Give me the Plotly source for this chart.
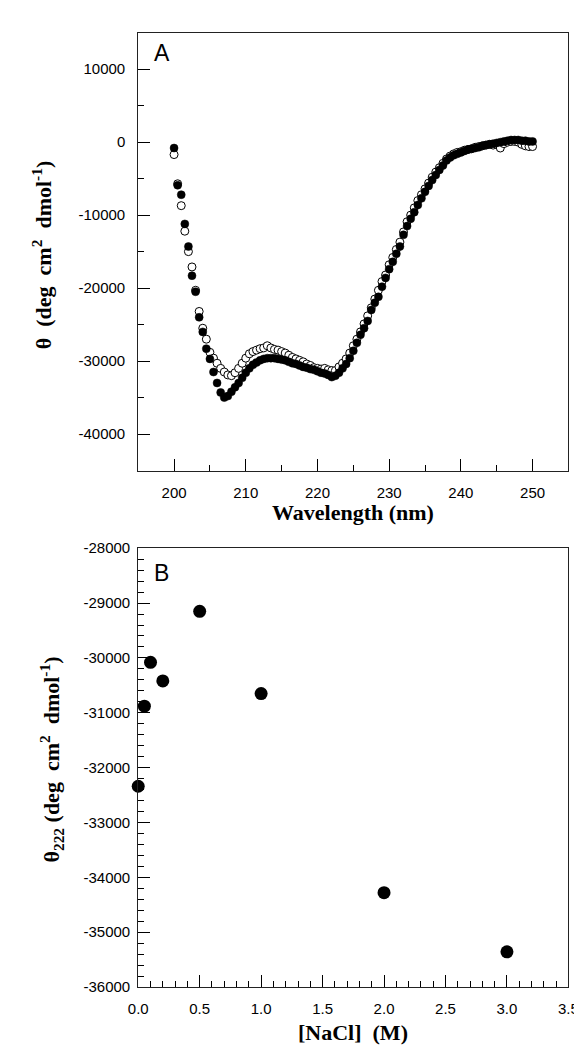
import plotly.graph_objects as go

# ---------------- Panel A data ----------------
wavelength = [200 + 0.5 * i for i in range(101)]

theta_filled = [
    -800, -5900, -7200, -11200, -14300, -18300, -20500, -24000, -26000, -28300,
    -29700, -31500, -33000, -34300, -35000, -34800, -34200, -33600, -33000, -32300,
    -31600, -31000, -30500, -30200, -29900, -29700, -29600, -29600, -29600, -29700,
    -29800, -29900, -30100, -30300, -30400, -30600, -30800, -30900, -31100, -31200,
    -31400, -31600, -31700, -31900, -32200, -32000, -31600, -31000, -30400, -29600,
    -28600, -27500, -26400, -25500, -24500, -23000, -22000, -21200, -19800, -18600,
    -17400, -16400, -15300, -14300, -12700, -11500, -10500, -9600, -8600, -7700,
    -6800, -6000, -5200, -4500, -3800, -3200, -2500, -2100, -1800, -1600,
    -1400, -1200, -1000, -900, -800, -700, -500, -400, -300, -200,
    -100, 0, 100, 200, 300, 300, 300, 200, 200, 100,
    100,
]

theta_open = [
    -1700, -5700, -8700, -12200, -15000, -17100, -20300, -23200, -25500, -27000,
    -28800, -29600, -30300, -31000, -31500, -31900, -32000, -31600, -31000, -30300,
    -29600, -29000, -28700, -28500, -28300, -28200, -27900, -28200, -28400, -28500,
    -28700, -28900, -29200, -29500, -29700, -29900, -30100, -30400, -30600, -30900,
    -31000, -31100, -31000, -31200, -31300, -31300, -30800, -30300, -29700, -28900,
    -27900, -27000, -26000, -24900, -23800, -22700, -21500, -20300, -19100, -18200,
    -16800, -15800, -14700, -13700, -12300, -10900, -10000, -9000, -8000, -7200,
    -6400, -5600, -4800, -4100, -3500, -2900, -2300, -1900, -1600, -1400,
    -1300, -1100, -1000, -900, -700, -600, -500, -400, -300, -400,
    -300, -800, -200, 0, 100, 100, 0, -300, -500, -600,
    -600,
]

a_xticks = [200, 210, 220, 230, 240, 250]
a_xticklabels = ["200", "210", "220", "230", "240", "250"]
a_yticks = [10000, 0, -10000, -20000, -30000, -40000]
a_yticklabels = ["10000", "0", "-10000", "-20000", "-30000", "-40000"]

# ---------------- Panel B data ----------------
nacl = [0.0, 0.05, 0.1, 0.2, 0.5, 1.0, 2.0, 3.0]
theta222 = [-32340, -30880, -30080, -30420, -29150, -30650, -34280, -35360]

b_xticks = [0.0, 0.5, 1.0, 1.5, 2.0, 2.5, 3.0, 3.5]
b_xticklabels = ["0.0", "0.5", "1.0", "1.5", "2.0", "2.5", "3.0", "3.5"]
b_yticks = [-28000, -29000, -30000, -31000, -32000, -33000, -34000, -35000, -36000]
b_yticklabels = ["-28000", "-29000", "-30000", "-31000", "-32000",
                 "-33000", "-34000", "-35000", "-36000"]

W, H = 582, 1046
XL, XR = 124.5, 570.0
A_TOP, A_BOT = 16.0, 461.0
B_TOP, B_BOT = 540.0, 986.0


def px(x):
    return x / W


def py(y):
    return 1 - y / H


fig = go.Figure()

fig.add_trace(go.Scatter(
    x=wavelength, y=theta_open, mode="markers", xaxis="x", yaxis="y",
    marker=dict(symbol="circle", size=8, color="white",
                line=dict(color="black", width=1)),
    showlegend=False, cliponaxis=False,
))
fig.add_trace(go.Scatter(
    x=wavelength, y=theta_filled, mode="markers", xaxis="x", yaxis="y",
    marker=dict(symbol="circle", size=8, color="black",
                line=dict(color="black", width=0.5)),
    showlegend=False, cliponaxis=False,
))
fig.add_trace(go.Scatter(
    x=nacl, y=theta222, mode="markers", xaxis="x2", yaxis="y2",
    marker=dict(symbol="circle", size=13, color="black"),
    showlegend=False, cliponaxis=False,
))

tickfont = dict(family="Liberation Sans, Arial, sans-serif", size=15, color="black")
axis_common = dict(
    showgrid=False, zeroline=False, showline=True, linecolor="#222",
    linewidth=1, mirror=True, ticks="inside", ticklen=12, tickwidth=1,
    tickcolor="black", tickfont=tickfont, tickmode="array",
)

fig.update_layout(
    width=W, height=H,
    margin=dict(l=0, r=0, t=0, b=0),
    paper_bgcolor="white", plot_bgcolor="white",
    xaxis=dict(
        **axis_common, domain=[px(XL), px(XR)], range=[195, 255],
        tickvals=a_xticks, ticktext=a_xticklabels, anchor="y",
        ticklabelstandoff=8,
        minor=dict(ticks="inside", ticklen=6, dtick=5, tick0=195,
                   tickcolor="black", tickwidth=1),
    ),
    yaxis=dict(
        **axis_common, domain=[py(A_BOT), py(A_TOP)], range=[-45000, 15000],
        tickvals=a_yticks, ticktext=a_yticklabels, anchor="x",
        ticklabelstandoff=9,
        minor=dict(ticks="inside", ticklen=6, dtick=5000, tick0=0,
                   tickcolor="black", tickwidth=1),
    ),
    xaxis2=dict(
        **axis_common, domain=[px(XL), px(XR)], range=[0, 3.5],
        tickvals=b_xticks, ticktext=b_xticklabels, anchor="y2",
        ticklabelstandoff=8,
        minor=dict(ticks="inside", ticklen=6, dtick=0.1, tick0=0,
                   tickcolor="black", tickwidth=1),
    ),
    yaxis2=dict(
        **axis_common, domain=[py(B_BOT), py(B_TOP)], range=[-36000, -28000],
        tickvals=b_yticks, ticktext=b_yticklabels, anchor="x2",
        ticklabelstandoff=4,
        minor=dict(ticks="inside", ticklen=6, dtick=200, tick0=-36000,
                   tickcolor="black", tickwidth=1),
    ),
)

title_font = dict(family="Liberation Serif, Times New Roman, serif", size=22, color="black")
panel_font = dict(family="Liberation Sans, Arial, sans-serif", size=23, color="black")
NB = "\u00a0"

annotations = [
    dict(text="A", x=px(149), y=py(37), xref="paper", yref="paper",
         showarrow=False, font=panel_font, xanchor="center", yanchor="middle"),
    dict(text="B", x=px(149), y=py(565), xref="paper", yref="paper",
         showarrow=False, font=panel_font, xanchor="center", yanchor="middle"),
    dict(text="<b>Wavelength" + NB + "(nm)</b>", x=px(347), y=py(504),
         xref="paper", yref="paper", showarrow=False, font=title_font,
         xanchor="center", yanchor="middle"),
    dict(text="<b>[NaCl]" + NB * 2 + "(M)</b>", x=px(347), y=py(1032),
         xref="paper", yref="paper", showarrow=False, font=title_font,
         xanchor="center", yanchor="middle"),
    dict(text="<b>θ" + NB * 2 + "(deg" + NB * 2 + "cm<sup>2</sup>" + NB * 2 + "dmol<sup>-1</sup>)</b>",
         x=px(25), y=py(242), xref="paper", yref="paper", showarrow=False,
         font=title_font, textangle=-90, xanchor="center", yanchor="middle"),
    dict(text="<b>θ<sub>222</sub>" + NB + "(deg" + NB * 2 + "cm<sup>2</sup>" + NB * 2 + "dmol<sup>-1</sup>)</b>",
         x=px(35), y=py(755), xref="paper", yref="paper", showarrow=False,
         font=title_font, textangle=-90, xanchor="center", yanchor="middle"),
]
fig.update_layout(annotations=annotations)

fig.write_html("out.html")
